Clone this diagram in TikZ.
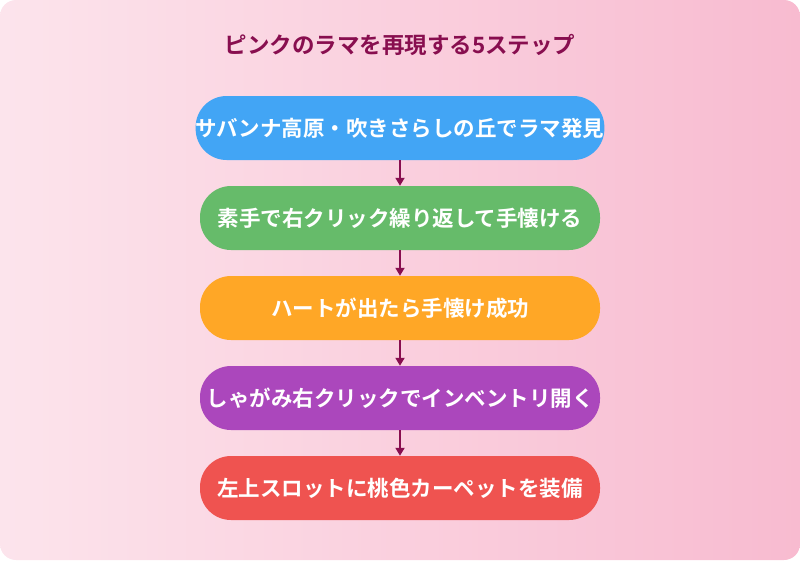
\documentclass[tikz,border=0pt]{standalone}
\usepackage{fontspec}
\newfontfamily\jpb{Noto Sans CJK JP Bold}
\definecolor{bgA}{HTML}{FCE4EC}
\definecolor{bgB}{HTML}{F8BBD0}
\definecolor{ttl}{HTML}{880E4F}
\definecolor{arr}{HTML}{880E4F}
\definecolor{cA}{HTML}{42A5F5}
\definecolor{cB}{HTML}{66BB6A}
\definecolor{cC}{HTML}{FFA726}
\definecolor{cD}{HTML}{AB47BC}
\definecolor{cE}{HTML}{EF5350}
\usetikzlibrary{arrows.meta}
\tikzset{
 pill/.style={rounded corners=31pt, minimum width=400pt, minimum height=64pt, text=white, font=\jpb\fontsize{21.5}{24}\selectfont, inner sep=0pt},
 link/.style={arr, line width=1.8pt, -{Triangle[length=8pt,width=9pt]}}
}
\begin{document}
\begin{tikzpicture}[x=1pt,y=-1pt]
\useasboundingbox (0,0) rectangle (800,560);
\shade[rounded corners=16pt, shading angle=135, left color=bgA, right color=bgB] (0,0) rectangle (800,560);
\node[text=ttl, font=\jpb\fontsize{22.5}{26}\selectfont] (t) at (400,45) {ピンクのラマを再現する5ステップ};
\node[pill, fill=cA] (s1) at (400,128) {サバンナ高原・吹きさらしの丘でラマ発見};
\node[pill, fill=cB] (s2) at (400,218) {素手で右クリック繰り返して手懐ける};
\node[pill, fill=cC] (s3) at (400,308) {ハートが出たら手懐け成功};
\node[pill, fill=cD] (s4) at (400,398) {しゃがみ右クリックでインベントリ開く};
\node[pill, fill=cE] (s5) at (400,488) {左上スロットに桃色カーペットを装備};
\foreach \a/\b in {s1/s2,s2/s3,s3/s4,s4/s5} \draw[link] (\a.south) -- (\b.north);
\end{tikzpicture}
\end{document}
